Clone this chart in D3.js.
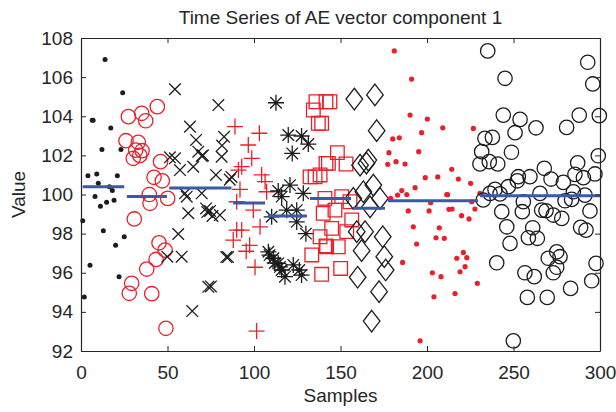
<!DOCTYPE html>
<html>
<head>
<meta charset="utf-8">
<script src="https://cdn.jsdelivr.net/npm/d3@7"></script>
<style>
  body { margin: 0; background: #fff; }
  svg { font-family: "Liberation Sans", Arial, sans-serif; }
  .axis text { font-size: 19px; fill: #262626; }
  .axis path, .axis line { stroke: #262626; }
</style>
</head>
<body>
<div id="chart-area"></div>
<script>
'use strict';
const svg_width = 616;
const svg_height = 412;
const margin = {left: 81, right: 16, top: 38, bottom: 61};

// data: [sample, value]
const black_dots = [[1.0,98.66],[1.9,94.76],[4.0,100.96],[5.2,96.38],[6.5,103.8],[7.0,103.8],[8.1,99.9],[9.1,101.05],
  [10.0,100.57],[11.2,99.4],[12.1,102.3],[12.9,98.15],[13.9,106.9],[14.8,99.6],[16.4,100.4],[17.2,103.4],[18.1,100.2],
  [19.1,99.7],[20.0,97.4],[21.0,100.96],[22.0,95.8],[23.1,102.3],[24.1,105.2],[25.0,97.84]];
const red_circles = [[26.0,102.75],[27.4,103.98],[27.9,94.95],[29.3,95.46],[30.2,101.85],[30.8,98.75],[31.6,102.27],
  [33.1,102.67],[34.0,102.0],[35.1,104.15],[35.3,102.24],[37.4,103.77],[38.0,96.19],[39.5,100.0],[39.9,99.55],[40.9,94.93],
  [42.2,100.88],[43.4,96.68],[44.1,104.49],[45.1,97.53],[46.0,101.68],[47.0,100.7],[48.6,97.16],[49.1,93.16],[50.1,99.8]];
const black_x = [[49.9,96.82],[51.4,101.9],[54.3,105.38],[54.3,101.85],[56.2,97.98],[57.2,101.25],[58.2,96.82],[60.1,100.06],
  [61.1,99.89],[62.0,99.04],[63.0,103.47],[64.3,94.04],[64.9,101.42],[66.5,102.79],[67.8,102.19],[69.8,101.97],[69.8,100.06],
  [70.5,102.0],[72.3,99.29],[73.0,99.1],[73.6,95.28],[74.6,99.16],[75.1,95.3],[76.0,98.9],[78.0,101.0],[79.4,104.57],
  [80.3,98.95],[81.3,101.93],[81.5,102.5],[82.7,102.95],[84.0,96.8],[85.0,96.8],[86.0,100.76],[87.0,100.9]];
const red_plus = [[88.0,97.67],[89.0,103.47],[90.0,99.63],[90.0,98.18],[91.0,101.25],[91.9,100.26],[92.9,101.42],
  [92.9,98.18],[95.5,97.1],[96.7,102.53],[97.5,97.4],[98.7,101.85],[99.6,99.2],[100.6,96.28],[101.5,93.02],[103.1,103.13],
  [103.5,98.35],[104.4,101.0],[106.4,100.66],[107.3,100.14]];
const black_star = [[108.3,97.07],[109.0,96.9],[110.2,98.86],[111.2,96.74],[112.0,96.5],[112.7,104.69],[114.0,100.18],
  [114.0,96.48],[115.0,96.3],[116.0,99.89],[116.0,96.14],[117.9,95.8],[118.9,99.2],[119.8,103.04],[120.8,100.48],
  [122.1,102.1],[122.7,96.4],[124.7,99.2],[124.7,98.6],[126.2,96.14],[127.5,102.99],[127.5,95.88],[128.5,100.06],
  [130.0,98.0],[131.4,102.58]];
const red_squares = [[132.4,100.9],[133.4,96.91],[134.3,104.32],[135.3,100.9],[135.8,104.74],[137.2,103.64],[138.2,97.84],
  [138.2,101.0],[139.1,95.92],[139.1,103.64],[140.0,99.04],[141.0,99.8],[141.6,104.74],[141.6,101.59],[141.6,97.37],
  [142.0,97.33],[143.0,101.59],[143.9,104.74],[144.9,98.27],[146.8,99.2],[148.2,102.14],[148.7,97.33],[150.1,96.22],
  [150.7,99.89],[153.2,101.56],[153.6,98.1],[155.5,99.63],[156.5,98.7]];
const black_diamonds = [[157.4,99.8],[158.0,104.88],[159.4,98.1],[159.9,95.77],[161.3,101.5],[162.2,97.13],[163.2,100.14],
  [164.2,98.1],[165.0,101.6],[166.1,101.76],[167.1,99.37],[168.0,93.53],[169.0,100.48],[169.9,105.09],[170.9,103.26],
  [172.3,95.03],[172.8,99.8],[174.4,97.84],[175.3,96.82],[176.1,96.14]];
const red_dots = [[177.3,101.54],[178.0,102.14],[179.0,99.8],[180.2,102.84],[181.1,107.34],[182.1,101.68],[183.0,99.97],
  [184.0,102.9],[185.4,100.2],[185.9,96.53],[187.3,101.56],[188.3,100.0],[189.2,99.16],[190.2,104.06],[191.1,105.9],
  [192.1,98.35],[193.1,100.35],[194.0,97.47],[195.2,102.19],[196.0,92.52],[196.9,103.16],[199.0,100.86],[200.2,103.86],
  [201.2,99.16],[202.1,99.58],[203.1,96.0],[204.0,94.77],[205.2,97.79],[206.2,100.9],[207.1,98.3],[208.1,95.8],
  [209.1,103.41],[210.0,97.76],[211.4,100.0],[211.9,99.99],[212.7,99.24],[214.3,101.29],[214.5,99.26],[216.2,94.94],
  [217.2,96.74],[218.1,100.79],[219.1,96.05],[220.0,98.92],[221.0,97.04],[222.0,96.31],[223.0,96.77],[224.3,98.75],
  [225.2,100.57],[225.8,99.63],[226.8,103.38],[227.7,99.26],[229.1,95.46],[230.6,100.06]];
const black_circles = [[230.6,101.56],[231.6,102.19],[232.5,99.72],[233.5,102.87],[235.1,107.34],[236.0,101.68],
  [236.4,100.06],[237.8,102.92],[239.3,100.26],[240.3,96.51],[240.9,101.56],[242.2,100.03],[243.2,99.12],[244.1,104.06],
  [245.1,105.94],[246.1,98.35],[247.0,100.4],[248.0,97.5],[248.8,102.16],[249.9,92.52],[250.9,103.16],[252.2,100.7],
  [252.8,100.91],[253.8,103.84],[255.1,99.12],[255.7,99.63],[256.6,96.0],[258.0,94.74],[258.6,97.79],[259.5,100.91],
  [261.1,98.3],[262.0,95.8],[263.0,103.41],[263.8,97.76],[265.3,100.06],[266.3,99.2],[267.8,101.34],[268.8,99.17],
  [269.5,94.74],[270.1,96.74],[271.7,100.79],[273.0,98.95],[273.0,96.0],[275.0,97.07],[275.0,96.28],[276.9,96.82],
  [277.9,98.78],[278.8,100.62],[279.8,99.68],[280.7,103.43],[283.0,95.2],[283.6,99.75],[284.6,100.14],[285.5,101.03],
  [287.1,101.62],[288.0,104.06],[288.8,98.32],[290.4,100.86],[291.3,99.97],[291.9,98.18],[292.9,106.76],[294.2,99.16],
  [295.2,95.59],[295.8,105.65],[297.1,101.05],[297.7,96.48],[299.0,101.98],[299.6,104.03]];

// segment means (blue lines)
const seg_start = [1, 26.5, 51, 88, 108, 132.4, 157.2, 177.5, 230.6];
const seg_end = [25, 49.7, 87, 106.4, 130.6, 156.1, 175.7, 229.5, 300];
const seg_mean = [100.4, 99.9, 100.33, 99.56, 98.9, 99.8, 99.3, 99.68, 99.94];

const x_ticks = [0, 50, 100, 150, 200, 250, 300];
const y_ticks = [92, 94, 96, 98, 100, 102, 104, 106, 108];

const red = '#ea1f29';
const black = '#1c1c1c';
const blue = '#3a59a6';

const svg = d3.select('#chart-area')
  .append('svg')
    .attr('width', svg_width)
    .attr('height', svg_height);

const x_scale = d3.scaleLinear()
  .domain([0, 300])
  .range([margin.left, svg_width - margin.right]);
const y_scale = d3.scaleLinear()
  .domain([92, 108])
  .range([svg_height - margin.bottom, margin.top]);

const plot = svg.append('g');

// marker shapes
const shapes = {
  x: s => `M${-s},${-s}L${s},${s}M${-s},${s}L${s},${-s}`,
  plus: s => `M${-s},0H${s}M0,${-s}V${s}`,
  star: s => {
    const d = s * 0.72;
    return `M${-s},0H${s}M0,${-s}V${s}M${-d},${-d}L${d},${d}M${-d},${d}L${d},${-d}`;
  },
  diamond: s => `M0,${-s * 1.3}L${s},0L0,${s * 1.3}L${-s},0Z`,
  square: s => `M${-s},${-s}H${s}V${s}H${-s}Z`
};

const draw_dots = (data, color, r) => {
  plot.append('g').selectAll('circle').data(data).enter()
    .append('circle')
      .attr('cx', d => x_scale(d[0]))
      .attr('cy', d => y_scale(d[1]))
      .attr('r', r)
      .attr('fill', color);
};
const draw_rings = (data, color, r) => {
  plot.append('g').selectAll('circle').data(data).enter()
    .append('circle')
      .attr('cx', d => x_scale(d[0]))
      .attr('cy', d => y_scale(d[1]))
      .attr('r', r)
      .attr('fill', 'none')
      .attr('stroke', color)
      .attr('stroke-width', 1.3);
};
const draw_shape = (data, color, shape, s) => {
  plot.append('g').selectAll('path').data(data).enter()
    .append('path')
      .attr('transform', d => `translate(${x_scale(d[0])},${y_scale(d[1])})`)
      .attr('d', shapes[shape](s))
      .attr('fill', 'none')
      .attr('stroke', color)
      .attr('stroke-width', 1.3);
};

draw_dots(black_dots, black, 2.5);
draw_rings(red_circles, red, 7.2);
draw_shape(black_x, black, 'x', 5.8);
draw_shape(red_plus, red, 'plus', 8);
draw_shape(black_star, black, 'star', 8);
draw_shape(red_squares, red, 'square', 6.8);
draw_shape(black_diamonds, black, 'diamond', 8.3);
draw_dots(red_dots, red, 2.6);
draw_rings(black_circles, black, 7.2);

// blue mean lines
plot.append('g').selectAll('line').data(seg_mean).enter()
  .append('line')
    .attr('x1', (d, i) => x_scale(seg_start[i]))
    .attr('x2', (d, i) => x_scale(seg_end[i]))
    .attr('y1', d => y_scale(d))
    .attr('y2', d => y_scale(d))
    .attr('stroke', blue)
    .attr('stroke-width', 3);

// axes, ticks inside on all four sides
const x_axis = d3.axisBottom(x_scale).tickValues(x_ticks).tickSizeInner(-5).tickSizeOuter(0).tickPadding(15);
const y_axis = d3.axisLeft(y_scale).tickValues(y_ticks).tickSizeInner(-5).tickSizeOuter(0).tickPadding(8);
const x_top = d3.axisTop(x_scale).tickValues(x_ticks).tickSizeInner(-5).tickSizeOuter(0).tickFormat('');
const y_right = d3.axisRight(y_scale).tickValues(y_ticks).tickSizeInner(-5).tickSizeOuter(0).tickFormat('');

svg.append('g')
  .attr('class', 'axis')
  .attr('transform', `translate(0,${svg_height - margin.bottom})`)
  .call(x_axis);
svg.append('g')
  .attr('class', 'axis')
  .attr('transform', `translate(${margin.left},0)`)
  .call(y_axis);
svg.append('g')
  .attr('class', 'axis')
  .attr('transform', `translate(0,${margin.top})`)
  .call(x_top);
svg.append('g')
  .attr('class', 'axis')
  .attr('transform', `translate(${svg_width - margin.right},0)`)
  .call(y_right);
svg.selectAll('.axis path').attr('stroke-width', 1.2);

const mid_x = (margin.left + svg_width - margin.right) / 2;
const mid_y = (margin.top + svg_height - margin.bottom) / 2;

svg.append('text')
  .attr('x', mid_x)
  .attr('y', 24)
  .attr('text-anchor', 'middle')
  .attr('font-size', 19)
  .attr('fill', '#262626')
  .text('Time Series of AE vector component 1');

svg.append('text')
  .attr('x', mid_x)
  .attr('y', 402)
  .attr('text-anchor', 'middle')
  .attr('font-size', 19)
  .attr('fill', '#262626')
  .text('Samples');

svg.append('text')
  .attr('transform', `translate(25,${mid_y}) rotate(-90)`)
  .attr('text-anchor', 'middle')
  .attr('font-size', 19)
  .attr('fill', '#262626')
  .text('Value');
</script>
</body>
</html>
